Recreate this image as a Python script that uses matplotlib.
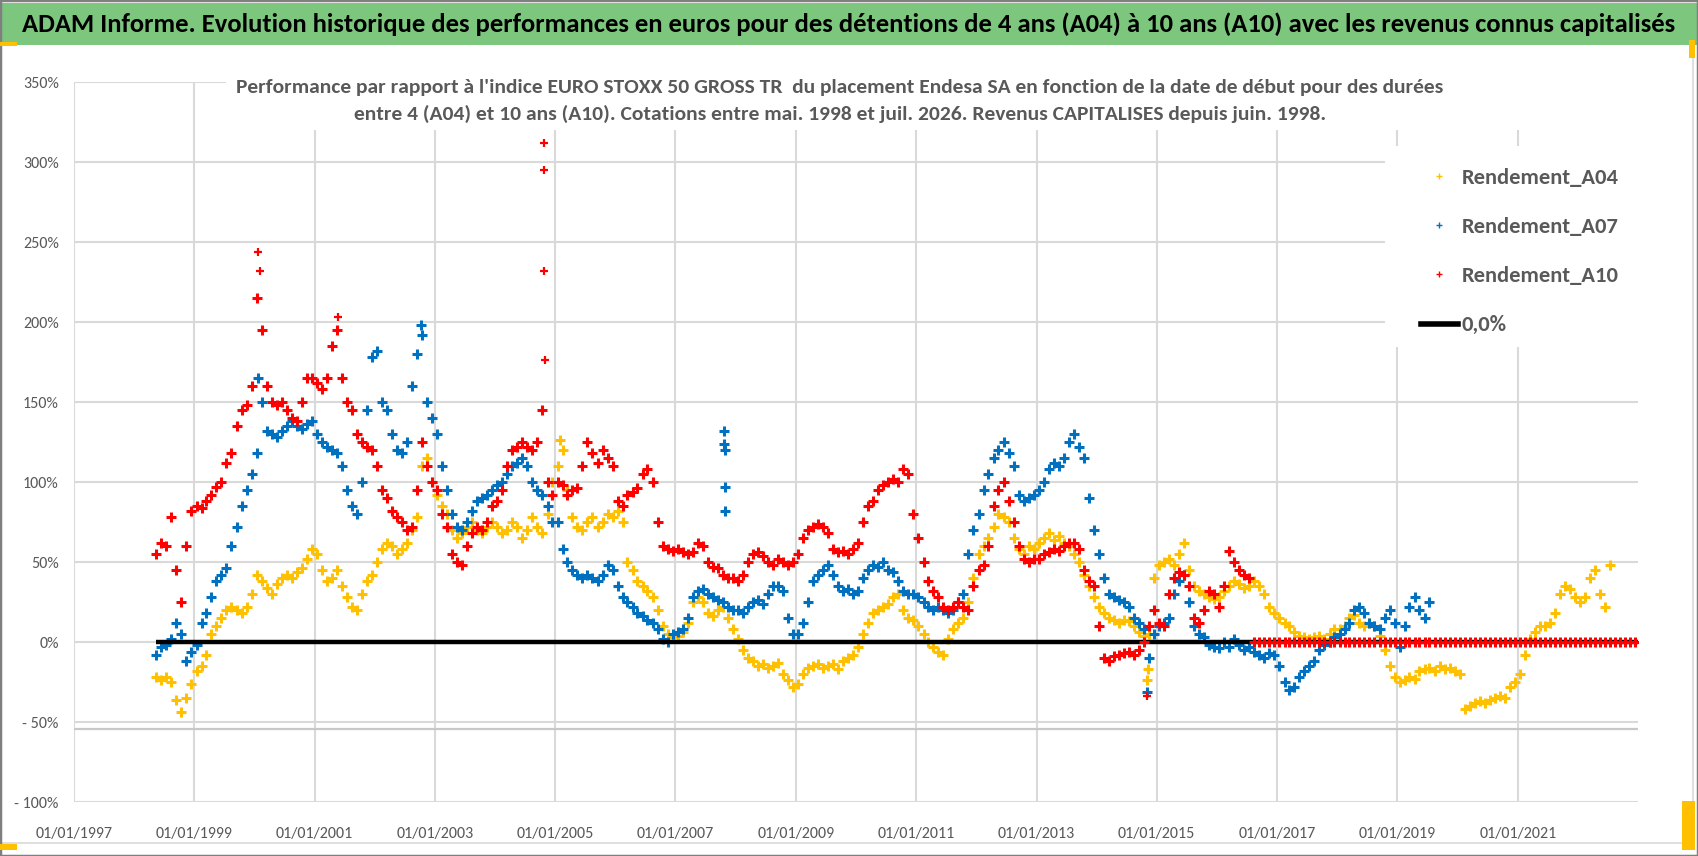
import numpy as np
import pandas as pd
import matplotlib
matplotlib.use("Agg")
import matplotlib.pyplot as plt
from matplotlib import font_manager as fm
from matplotlib.lines import Line2D
from matplotlib.patches import Rectangle

# ---------------------------------------------------------------- data
TITLE = ("ADAM Informe. Evolution historique des performances en euros pour des détentions "
         "de 4 ans (A04) à 10 ans (A10) avec les revenus connus capitalisés")
SUBTITLE = ("Performance par rapport à l'indice EURO STOXX 50 GROSS TR  du placement Endesa SA "
            "en fonction de la date de début pour des durées\n"
            "entre 4 (A04) et 10 ans (A10). Cotations entre mai. 1998 et juil. 2026. "
            "Revenus CAPITALISES depuis juin. 1998.")
SERIES_NAMES = ["Rendement_A04", "Rendement_A07", "Rendement_A10", "0,0%"]

# monthly values (%), first month = May 1998
A04 = [
    -22, -24, -22, -25, -36, -44, -35, -26,                      # 1998
    -18, -15, -8, 5, 10, 15, 20, 22, 20, 18, 22, 30,             # 1999
    42, 38, 34, 30, 36, 40, 42, 40, 44, 46, 52, 58,              # 2000
    55, 45, 38, 40, 45, 35, 28, 22, 20, 30, 38, 42,              # 2001
    50, 58, 62, 60, 55, 58, 62, 70, 78, 110, 115, 100,           # 2002
    92, 85, 80, 70, 65, 68, 72, 75, 70, 68, 72, 75,              # 2003
    72, 68, 70, 75, 72, 65, 70, 78, 72, 68, 80, 100,             # 2004
    110, 120, 95, 78, 72, 70, 75, 78, 72, 75, 80, 78,            # 2005
    82, 75, 50, 45, 38, 35, 32, 28, 20, 10, 5, 3,                # 2006
    4, 6, 12, 25, 28, 25, 18, 16, 20, 22, 15, 8,                 # 2007
    2, -5, -10, -12, -15, -14, -16, -15, -13, -20, -24, -28,     # 2008
    -26, -20, -16, -15, -14, -16, -15, -14, -17, -12, -10, -8,   # 2009
    -3, 5, 12, 18, 20, 22, 24, 28, 30, 20, 15, 14,               # 2010
    10, 5, 0, -3, -6, -8, 2, 8, 12, 15, 25, 40,                  # 2011
    55, 60, 65, 72, 80, 78, 75, 65, 58, 55, 60, 58,              # 2012
    62, 65, 68, 64, 66, 62, 60, 55, 50, 42, 35, 28,              # 2013
    22, 18, 15, 14, 12, 14, 13, 10, 6, 4, 5, 40,                 # 2014
    48, 50, 52, 48, 55, 62, 45, 35, 32, 30, 28, 27,              # 2015
    28, 32, 35, 38, 36, 34, 35, 38, 35, 30, 22, 18,              # 2016
    15, 12, 10, 6, 4, 3, 2, 3, 4, 2, 5, 8,                       # 2017
    8, 10, 15, 17, 12, 10, 12, 10, 4, -5, -15, -22,              # 2018
    -25, -24, -22, -23, -18, -17, -16, -18, -15, -17, -16, -18,  # 2019
    -20, -42, -40, -38, -37, -38, -36, -35, -34, -35, -28, -25,  # 2020
    -20, -8, 2, 6, 10, 10, 12, 18, 30, 35, 33, 28,               # 2021
    25, 28, 40, 45, 30, 22, 48,                                  # 2022
]
A07 = [
    -8, -3, -2, 2, 12, 5, -12, -6,                               # 1998
    -2, 12, 18, 28, 38, 42, 46, 60, 72, 85, 95, 105,             # 1999
    118, 150, 132, 130, 128, 132, 135, 138, 135, 133, 136, 138,  # 2000
    130, 125, 122, 120, 118, 110, 95, 85, 80, 100, 145, 178,     # 2001
    182, 150, 145, 130, 120, 118, 125, 160, 180, 192, 150, 140,  # 2002
    130, 110, 95, 80, 72, 70, 75, 82, 88, 90, 92, 95,            # 2003
    98, 100, 105, 110, 112, 115, 110, 100, 95, 92, 85, 75,       # 2004
    75, 58, 50, 45, 42, 40, 42, 40, 38, 42, 48, 45,              # 2005
    35, 28, 25, 22, 18, 16, 14, 12, 8, 2, 0, 5,                  # 2006
    6, 8, 15, 28, 32, 33, 30, 28, 26, 25, 22, 20,                # 2007
    20, 18, 22, 25, 26, 24, 30, 35, 35, 32, 15, 5,               # 2008
    5, 12, 25, 38, 42, 45, 48, 42, 35, 32, 33, 30,               # 2009
    32, 40, 45, 48, 47, 50, 45, 44, 38, 32, 30, 30,              # 2010
    28, 25, 22, 20, 22, 20, 18, 20, 25, 30, 55, 70,              # 2011
    80, 95, 105, 115, 120, 125, 118, 110, 92, 88, 90, 92,        # 2012
    95, 100, 108, 112, 110, 115, 125, 130, 122, 115, 90, 70,     # 2013
    55, 40, 30, 28, 26, 25, 22, 15, 12, 8, -10, 5,               # 2014
    10, 12, 15, 30, 38, 42, 25, 10, 5, 3, -2, -3,                # 2015
    -4, 0, -3, 2, -2, -5, -3, -6, -8, -10, -7, -8,               # 2016
    -15, -25, -30, -28, -22, -18, -15, -12, -5, -2, 0, 3,        # 2017
    5, 8, 12, 20, 22, 18, 12, 10, 8, 15, 20, 12,                 # 2018
    -3, 10, 22, 28, 20, 15, 25,                                  # 2019
]
A10 = [
    55, 62, 60, 78, 45, 25, 60, 82,                              # 1998
    85, 84, 88, 92, 97, 100, 112, 118, 135, 145, 148, 160,       # 1999
    215, 195, 160, 150, 148, 150, 145, 140, 138, 150, 165, 165,  # 2000
    162, 158, 165, 185, 195, 165, 150, 145, 130, 125, 122, 120,  # 2001
    110, 95, 90, 82, 78, 75, 70, 72, 95, 125, 110, 100,          # 2002
    95, 80, 72, 55, 50, 48, 60, 68, 72, 70, 75, 85,              # 2003
    88, 95, 110, 120, 122, 125, 122, 120, 125, 145, 100, 92,     # 2004
    100, 98, 92, 95, 96, 110, 125, 118, 112, 120, 115, 110,      # 2005
    88, 85, 92, 94, 96, 105, 108, 100, 75, 60, 58, 57,           # 2006
    58, 56, 55, 56, 62, 60, 50, 47, 46, 42, 40, 40,              # 2007
    38, 42, 50, 55, 56, 54, 50, 48, 52, 50, 48, 50,              # 2008
    55, 65, 70, 72, 74, 72, 68, 58, 56, 57, 55, 58,              # 2009
    62, 75, 85, 88, 95, 98, 100, 102, 100, 108, 105, 80,         # 2010
    65, 50, 38, 32, 28, 22, 20, 22, 25, 22, 20, 35,              # 2011
    45, 48, 60, 85, 95, 100, 88, 75, 60, 52, 50, 52,             # 2012
    52, 55, 56, 58, 57, 60, 62, 62, 58, 45, 38, 35,              # 2013
    10, -10, -12, -9, -8, -7, -6, -8, -5, 0, 10, 20,             # 2014
    12, 10, 30, 40, 44, 42, 35, 15, 12, 20, 32, 30,              # 2015
    22, 35, 57, 50, 45, 42, 40,                                  # 2016
]
# A10 after July 2016 : no 10-year window yet -> 0 (Aug 2016 .. Dec 2022)
A10_TAIL = [
    0, 0, 0, 0, 0,
    0, 0, 0, 0, 0, 0, 0, 0, 0, 0, 0, 0,
    0, 0, 0, 0, 0, 0, 0, 0, 0, 0, 0, 0,
    0, 0, 0, 0, 0, 0, 0, 0, 0, 0, 0, 0,
    0, 0, 0, 0, 0, 0, 0, 0, 0, 0, 0, 0,
    0, 0, 0, 0, 0, 0, 0, 0, 0, 0, 0, 0,
    0, 0, 0, 0, 0, 0, 0, 0, 0, 0, 0, 0,
]
# isolated spikes
A04_SPIKE_DATES = ["2005-02-01", "2014-11-03", "2014-11-06"]
A04_SPIKE_VALUES = [126, -24, -17]
A07_SPIKE_DATES = ["2000-01-25", "2002-10-10", "2007-10-24", "2007-10-25", "2007-10-26",
                   "2007-10-29", "2007-10-30", "2014-11-05"]
A07_SPIKE_VALUES = [165, 198, 132, 124, 120, 97, 82, -31]
A10_SPIKE_DATES = ["2000-01-25", "2000-02-03", "2001-05-25", "2004-10-22", "2004-10-25",
                   "2004-10-27", "2004-10-29", "2014-11-05"]
A10_SPIKE_VALUES = [244, 232, 203, 312, 295, 232, 176, -34]

ZERO_LINE_DATES = ["1998-05-15", "2022-12-31"]
ZERO_LINE_VALUES = [0.0, 0.0]
LOWER_REF_LINE = -54.4

Y_TICKS = [-100, -50, 0, 50, 100, 150, 200, 250, 300, 350]
Y_TICK_LABELS = ["- 100%", "- 50%", "0%", "50%", "100%", "150%", "200%", "250%", "300%", "350%"]
X_TICK_DATES = ["1997-01-01", "1999-01-01", "2001-01-01", "2003-01-01", "2005-01-01", "2007-01-01",
                "2009-01-01", "2011-01-01", "2013-01-01", "2015-01-01", "2017-01-01", "2019-01-01",
                "2021-01-01"]
X_TICK_LABELS = ["01/01/1997", "01/01/1999", "01/01/2001", "01/01/2003", "01/01/2005", "01/01/2007",
                 "01/01/2009", "01/01/2011", "01/01/2013", "01/01/2015", "01/01/2017", "01/01/2019",
                 "01/01/2021"]
X_LIMITS = ["1997-01-01", "2023-01-01"]

C_A04, C_A07, C_A10 = "#FFC000", "#0070C0", "#FF0000"
TXT = "#595959"
GRID = "#D9D9D9"

# ---------------------------------------------------------------- fonts
names = {f.name for f in fm.fontManager.ttflist}
FONT = "DejaVu Sans"
for cand in ["Carlito", "Liberation Sans Narrow", "Roboto Condensed", "Liberation Sans"]:
    if cand in names:
        FONT = cand
        break
plt.rcParams["font.family"] = [FONT, "DejaVu Sans"]

# ---------------------------------------------------------------- figure
W, H = 1698, 856
fig = plt.figure(figsize=(W / 100, H / 100), dpi=100)
fig.patch.set_facecolor("white")
renderer = fig.canvas.get_renderer()


def fx(px):
    return px / W


def fy(py):
    return 1 - py / H


def fit(txt, target_px):
    w = txt.get_window_extent(renderer).width
    txt.set_fontsize(txt.get_fontsize() * target_px / w)


def size_for(sample, target_px, weight="normal"):
    t = fig.text(0, 0, sample, fontsize=10, weight=weight)
    w = t.get_window_extent(renderer).width
    t.remove()
    return 10 * target_px / w


# decorations: title band, borders
fig.patches.append(Rectangle((0, fy(45)), 1, fy(3) - fy(45), transform=fig.transFigure,
                             facecolor="#7DC67E", edgecolor="none", zorder=0))
fig.lines.append(Line2D([0, fx(1693)], [fy(843), fy(843)], transform=fig.transFigure,
                        color="#D9D9D9", lw=1.2))
fig.lines.append(Line2D([fx(1693), fx(1693)], [fy(46), fy(843)], transform=fig.transFigure,
                        color="#D9D9D9", lw=1.2))
fig.patches.append(Rectangle((0, 0), 1, 1, transform=fig.transFigure, facecolor="none",
                             edgecolor="#7F7F7F", lw=2.5, zorder=5))
for (x0, y0, x1, y1) in [(0, 42, 17, 46), (0, 844, 17, 850), (1682, 801, 1695, 850),
                         (1682, 845, 1695, 850), (1689, 40, 1695, 58)]:
    fig.patches.append(Rectangle((fx(x0), fy(y1)), fx(x1) - fx(x0), fy(y0) - fy(y1),
                                 transform=fig.transFigure, facecolor="#FFC000",
                                 edgecolor="none", zorder=6))

t_title = fig.text(0.5, fy(24), TITLE, ha="center", va="center", fontsize=18,
                   weight="bold", color="black")
fit(t_title, 1660)

# ---------------------------------------------------------------- axes
ax = fig.add_axes([fx(74), fy(802), fx(1638) - fx(74), fy(82) - fy(802)])
ax.set_facecolor("white")
ax.set_axisbelow(True)

start = pd.Timestamp("1998-05-01")
d04 = pd.date_range(start, periods=len(A04), freq="MS") + pd.Timedelta(days=14)
d07 = pd.date_range(start, periods=len(A07), freq="MS") + pd.Timedelta(days=14)
d10 = pd.date_range(start, periods=len(A10), freq="MS") + pd.Timedelta(days=14)
d10t = pd.date_range(d10[-1] + pd.offsets.MonthBegin(1), periods=len(A10_TAIL),
                     freq="MS") + pd.Timedelta(days=14)

mk = dict(ls="none", marker="+", ms=7.5, mew=2.2)
ax.plot(d04, A04, color=C_A04, zorder=3, **mk)
ax.plot(pd.to_datetime(A04_SPIKE_DATES), A04_SPIKE_VALUES, color=C_A04, zorder=3, **mk)
ax.plot(d07, A07, color=C_A07, zorder=4, **mk)
ax.plot(pd.to_datetime(A07_SPIKE_DATES), A07_SPIKE_VALUES, color=C_A07, zorder=4, **mk)
ax.plot(pd.to_datetime(ZERO_LINE_DATES), ZERO_LINE_VALUES, color="black", lw=3.2, zorder=5,
        solid_capstyle="butt")
ax.plot(d10, A10, color=C_A10, zorder=6, **mk)
ax.plot(d10t, A10_TAIL, color=C_A10, zorder=6, **mk)
ax.plot(pd.to_datetime(A10_SPIKE_DATES), A10_SPIKE_VALUES, color=C_A10, zorder=6,
        ls="none", marker="+", ms=6, mew=1.6)

ax.axhline(LOWER_REF_LINE, color="#C8C8C8", lw=1.6, zorder=1)

ax.set_xlim(pd.to_datetime(X_LIMITS[0]), pd.to_datetime(X_LIMITS[1]))
ax.set_ylim(Y_TICKS[0], Y_TICKS[-1])
ax.set_yticks(Y_TICKS)
ax.set_xticks(pd.to_datetime(X_TICK_DATES))
tick_fs = size_for("01/01/1997", 78)
ax.set_yticklabels(Y_TICK_LABELS, fontsize=tick_fs, color=TXT)
ax.set_xticklabels(X_TICK_LABELS, fontsize=tick_fs, color=TXT)
ax.tick_params(axis="both", length=0)
ax.tick_params(axis="y", pad=11)
ax.tick_params(axis="x", pad=18)
ax.grid(True, color=GRID, lw=1.5, zorder=0)
for s in ax.spines.values():
    s.set_visible(False)

# white boxes behind subtitle and legend (hide the gridlines there)
ax.add_patch(Rectangle((fx(226), fy(130)), fx(1640) - fx(226), fy(80) - fy(130),
                       transform=fig.transFigure, facecolor="white", edgecolor="none",
                       zorder=1))
ax.add_patch(Rectangle((fx(1385), fy(347)), fx(1640) - fx(1385), fy(146) - fy(347),
                       transform=fig.transFigure, facecolor="white", edgecolor="none",
                       zorder=1))

t_sub = fig.text(fx(840), fy(101), SUBTITLE, ha="center", va="center", fontsize=14,
                 weight="bold", color=TXT, linespacing=1.6, multialignment="center")
fit(t_sub, 1212)

# legend
leg_fs = size_for("Rendement_A04", 156, weight="bold")
handles = [
    Line2D([], [], ls="none", marker="+", ms=5, mew=1.0, color=C_A04),
    Line2D([], [], ls="none", marker="+", ms=5, mew=1.0, color=C_A07),
    Line2D([], [], ls="none", marker="+", ms=5, mew=1.0, color=C_A10),
    Line2D([], [], color="black", lw=4),
]
leg = ax.legend(handles, SERIES_NAMES, loc="upper left",
                bbox_to_anchor=(fx(1405), fy(152)), bbox_transform=fig.transFigure,
                frameon=False, prop=dict(size=leg_fs, weight="bold"),
                labelcolor=TXT, handlelength=1.65, handletextpad=0.18,
                labelspacing=1.3, borderpad=0.2)
leg.set_zorder(10)

fig.savefig("out.png", dpi=100, facecolor="white")
